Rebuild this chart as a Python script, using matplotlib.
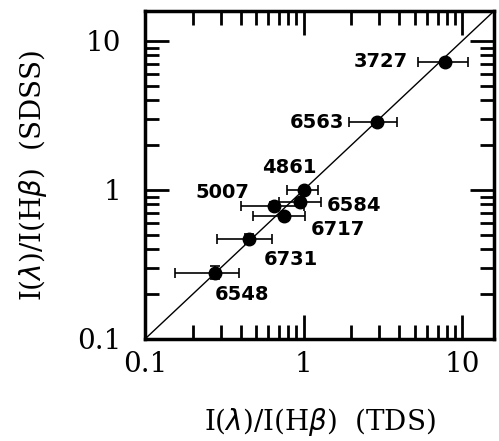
import matplotlib
matplotlib.use("Agg")
import matplotlib.pyplot as plt
import numpy as np
from matplotlib.ticker import FixedLocator, NullFormatter, LogLocator

# line ratios relative to H-beta
lines = ["3727", "6563", "4861", "5007", "6584", "6717", "6731", "6548"]
tds   = np.array([7.8, 2.90, 1.00, 0.65, 0.95, 0.75, 0.455, 0.275])
tds_lo = np.array([5.25, 1.93, 0.79, 0.40, 0.70, 0.48, 0.283, 0.155])
tds_hi = np.array([10.9, 3.87, 1.24, 1.00, 1.28, 1.02, 0.63, 0.394])
sdss  = np.array([7.25, 2.85, 1.00, 0.78, 0.83, 0.67, 0.467, 0.279])
sdss_lo = np.array([7.0, 2.78, 0.97, 0.73, 0.80, 0.65, 0.433, 0.251])
sdss_hi = np.array([7.5, 2.92, 1.03, 0.83, 0.86, 0.69, 0.505, 0.311])

# label offsets in pixels (ha, dx, dy)
label_pos = {
    "3727": ("right", -37, 0),
    "6563": ("right", -33, 0),
    "4861": ("center", -14, 22),
    "5007": ("right", -25, 14),
    "6584": ("left", 27, -4),
    "6717": ("center", 54, -14),
    "6731": ("center", 41, -20),
    "6548": ("center", 27, -22),
}

fig = plt.figure(figsize=(4.99, 4.41), dpi=100)
ax = fig.add_axes([0.2906, 0.2313, 0.6994, 0.7437])
ax.set_xscale("log"); ax.set_yscale("log")
lim = (0.1, 10**1.2)
ax.set_xlim(lim); ax.set_ylim(lim)

ax.plot(lim, lim, color="black", lw=1.0)
xerr = [tds - tds_lo, tds_hi - tds]
yerr = [sdss - sdss_lo, sdss_hi - sdss]
ax.errorbar(tds, sdss, xerr=xerr, yerr=yerr, fmt="o", color="black",
            ms=9, elinewidth=1.2, capsize=3.5, capthick=1.2)

for name, x, y in zip(lines, tds, sdss):
    ha, dx, dy = label_pos[name]
    ax.annotate(name, (x, y), xytext=(dx, dy), textcoords="offset pixels",
                ha=ha, va="center", fontsize=14, fontweight="heavy",
                family="DejaVu Sans")

for s in ax.spines.values():
    s.set_linewidth(2.5)
ax.xaxis.set_major_locator(FixedLocator([0.1, 1, 10]))
ax.yaxis.set_major_locator(FixedLocator([0.1, 1, 10]))
ax.xaxis.set_minor_locator(LogLocator(base=10, subs=np.arange(2, 10)))
ax.yaxis.set_minor_locator(LogLocator(base=10, subs=np.arange(2, 10)))
ax.xaxis.set_minor_formatter(NullFormatter())
ax.yaxis.set_minor_formatter(NullFormatter())
ax.set_xticklabels(["0.1", "1", "10"])
ax.set_yticklabels(["0.1", "1", "10"])
ax.tick_params(which="both", direction="in", top=True, right=True, width=2)
ax.tick_params(which="major", length=17, labelsize=20)
ax.tick_params(which="minor", length=10)
ax.tick_params(axis="x", which="major", pad=9)
ax.tick_params(axis="y", which="major", pad=17)
for t in ax.get_xticklabels() + ax.get_yticklabels():
    t.set_family("DejaVu Serif")

ax.set_xlabel(r"I($\lambda$)/I(H$\beta$)  (TDS)", fontsize=20,
              family="DejaVu Serif", labelpad=20)
ax.set_ylabel(r"I($\lambda$)/I(H$\beta$)  (SDSS)", fontsize=20,
              family="DejaVu Serif", labelpad=20)

fig.savefig("out.png", dpi=100)
